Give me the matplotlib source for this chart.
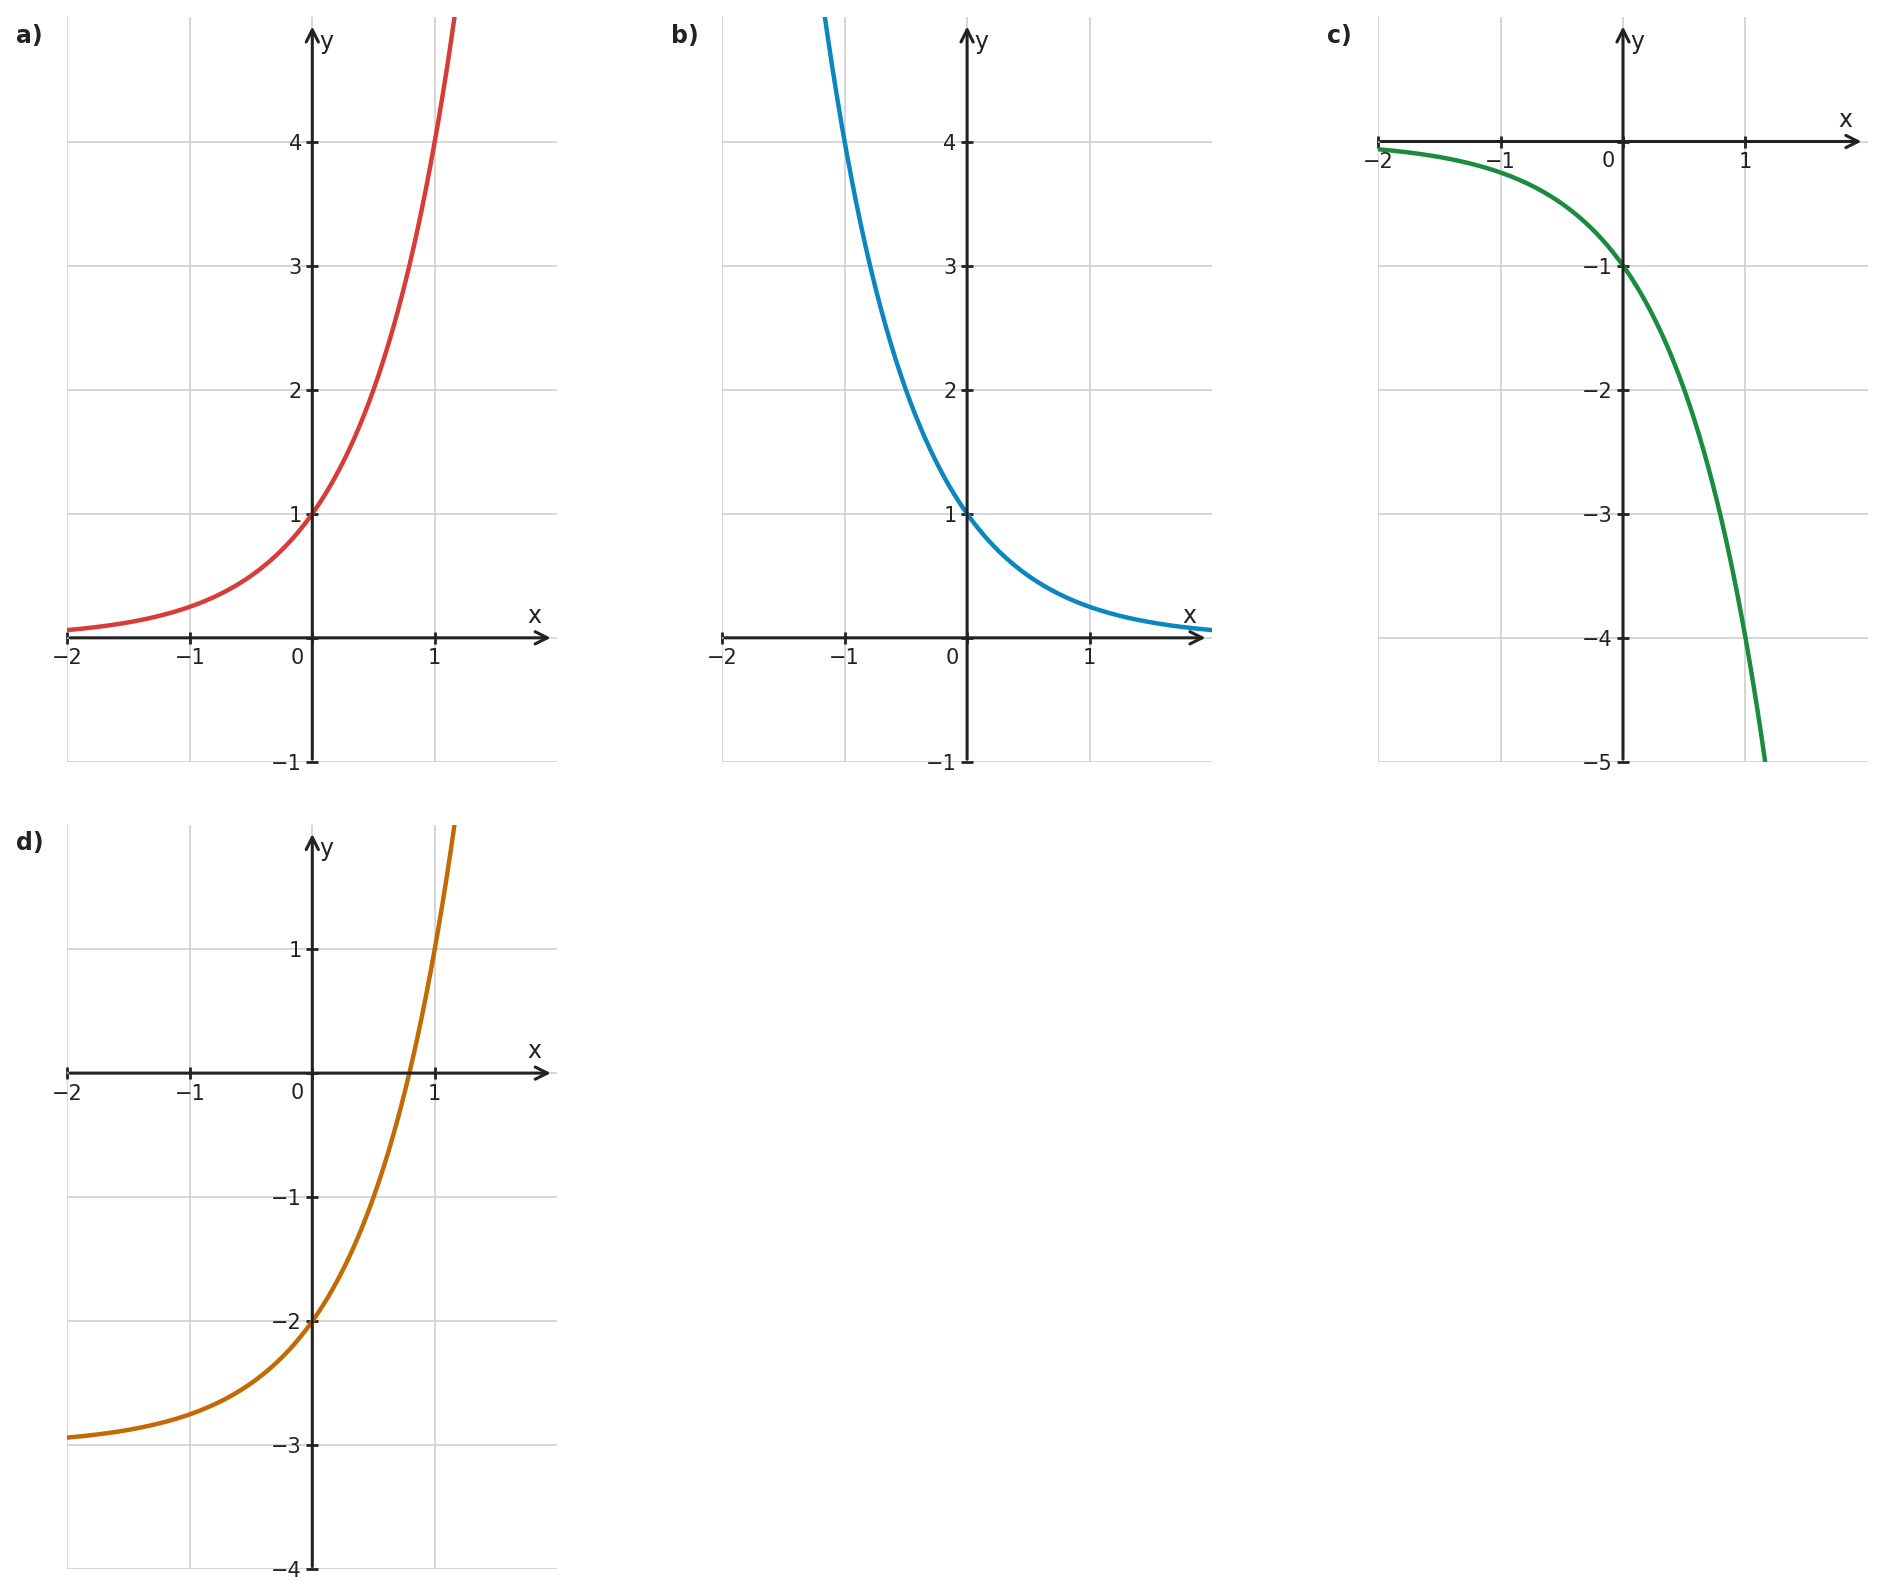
import matplotlib.pyplot as plt
import numpy as np

# y = sign * base**x + shift for each panel
labels = ["a)", "b)", "c)", "d)"]
bases = [4.0, 0.25, 4.0, 4.0]
signs = [1, 1, -1, 1]
shifts = [0, 0, 0, -3]
y_ranges = [(-1, 5), (-1, 5), (-5, 1), (-4, 2)]
colors = ["#d63c38", "#0b86be", "#1a8c3f", "#c26a04"]
x_ticks = [-2, -1, 0, 1]

W, H = 1887, 1584
fig = plt.figure(figsize=(W / 100, H / 100), dpi=100)

lefts = [0.0357, 0.3827, 0.7303, 0.0357]
bottoms = [0.519, 0.519, 0.519, 0.0092]
w, h = 0.2596, 0.470
ink = "#222222"

for i in range(4):
    ax = fig.add_axes([lefts[i], bottoms[i], w, h])
    y0, y1 = y_ranges[i]
    ax.set_xlim(-2, 2)
    ax.set_ylim(y0, y1)
    x = np.linspace(-2, 2, 600)
    y = signs[i] * bases[i] ** x + shifts[i]
    ax.plot(x, y, color=colors[i], lw=3.2, zorder=3, clip_on=True)

    yt = list(range(y0, y1))
    ax.set_xticks(x_ticks)
    ax.set_yticks(yt)
    ax.grid(True, color="#d0d0d0", lw=1.2, zorder=0)
    for s in ["top", "right"]:
        ax.spines[s].set_visible(False)
    ax.spines["left"].set_position(("data", 0))
    ax.spines["bottom"].set_position(("data", 0))
    ax.spines["left"].set_visible(False)
    ax.spines["bottom"].set_visible(False)
    ax.tick_params(direction="inout", length=8, width=2, color=ink,
                   labelsize=15, labelcolor=ink)
    ax.set_xticklabels(["\u22122", "\u22121", "", "1"])
    ax.set_yticklabels(["" if v == 0 else str(v).replace("-", "\u2212") for v in yt])
    ax.text(-0.07, -0.08 * (y1 - y0) / 6, "0", ha="right", va="top",
            fontsize=15, color=ink)

    ax.annotate("", xy=(1.97, 0), xytext=(-2, 0),
                arrowprops=dict(arrowstyle="->", lw=2.2, color=ink,
                                mutation_scale=22), zorder=4)
    ax.annotate("", xy=(0, y1 - 0.05), xytext=(0, y0),
                arrowprops=dict(arrowstyle="->", lw=2.2, color=ink,
                                mutation_scale=22), zorder=4)
    ax.text(1.87, 0.08 * (y1 - y0) / 6, "x", ha="right", va="bottom",
            fontsize=17, color=ink)
    ax.text(0.06, y1 - 0.1, "y", ha="left", va="top", fontsize=17, color=ink)
    ax.set_facecolor("none")
    for sp in ["top", "right"]:
        pass

    fig.text(lefts[i] - 0.027, bottoms[i] + h - 0.004, labels[i],
             fontsize=17, fontweight="bold", color=ink, va="top")

fig.savefig("out.png", dpi=100, facecolor="white")
